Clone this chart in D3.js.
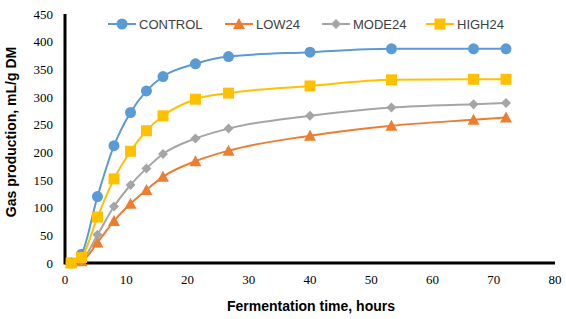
<!DOCTYPE html>
<html><head><meta charset="utf-8">
<script src="https://cdn.jsdelivr.net/npm/d3@7"></script>
<style>body{margin:0;background:#fff}</style>
</head><body>
<svg id="c" width="566" height="319"></svg>
<script>
const hours = [1, 2.7, 5.3, 8, 10.7, 13.3, 16, 21.3, 26.7, 40, 53.3, 66.7, 72];
const control = [0, 16, 120, 212, 272, 311, 337, 360, 373, 381, 387, 387, 387];
const low24 = [0, 3, 37, 76, 107, 132, 156, 184, 203, 230, 248, 259, 263];
const mode24 = [0, 5, 51, 102, 141, 171, 197, 225, 243, 266, 281, 287, 289];
const high24 = [0, 10, 83, 152, 202, 239, 266, 296, 307, 320, 331, 332, 332];
const seriesNames = ["CONTROL", "LOW24", "MODE24", "HIGH24"];
const colors = ["#5B9BD5", "#ED7D31", "#A5A5A5", "#FFC000"];
const markers = ["circle", "triangle", "diamond", "square"];
const xTicks = [0, 10, 20, 30, 40, 50, 60, 70, 80];
const yTicks = [0, 50, 100, 150, 200, 250, 300, 350, 400, 450];

const values = [control, low24, mode24, high24];
const svg = d3.select("#c");
const x = d3.scaleLinear().domain([0, 80]).range([65, 555]);
const y = d3.scaleLinear().domain([0, 450]).range([263, 14]);

// axes
svg.append("line").attr("x1", x(0)).attr("x2", x(80)).attr("y1", y(0)).attr("y2", y(0))
  .attr("stroke", "#000").attr("stroke-width", 3);
svg.append("line").attr("x1", x(0)).attr("x2", x(0)).attr("y1", y(0) + 1.5).attr("y2", y(450))
  .attr("stroke", "#000").attr("stroke-width", 3);

svg.selectAll(".yt").data(yTicks).join("text")
  .attr("x", 53).attr("y", d => y(d) + 4.5).attr("text-anchor", "end")
  .attr("font-family", "Liberation Serif, Times New Roman, serif").attr("font-size", 13)
  .attr("fill", "#000").text(d => d);
svg.selectAll(".xt").data(xTicks).join("text")
  .attr("x", d => x(d)).attr("y", 284).attr("text-anchor", "middle")
  .attr("font-family", "Liberation Serif, Times New Roman, serif").attr("font-size", 13)
  .attr("fill", "#000").text(d => d);

svg.append("text").attr("x", 311).attr("y", 311).attr("text-anchor", "middle")
  .attr("font-family", "Liberation Sans, Arial, sans-serif").attr("font-weight", "bold")
  .attr("font-size", 14).text("Fermentation time, hours");
svg.append("text").attr("transform", "translate(16,132) rotate(-90)").attr("text-anchor", "middle")
  .attr("font-family", "Liberation Sans, Arial, sans-serif").attr("font-weight", "bold")
  .attr("font-size", 14).text("Gas production, mL/g DM");

function marker(g, type, cx, cy, color) {
  if (type === "circle") g.append("circle").attr("cx", cx).attr("cy", cy).attr("r", 5.5).attr("fill", color);
  else if (type === "square") g.append("rect").attr("x", cx - 5.5).attr("y", cy - 5.5).attr("width", 11).attr("height", 11).attr("fill", color);
  else if (type === "triangle") g.append("path").attr("d", `M${cx},${cy - 6}L${cx + 6},${cy + 5}L${cx - 6},${cy + 5}Z`).attr("fill", color);
  else g.append("path").attr("d", `M${cx},${cy - 5}L${cx + 5},${cy}L${cx},${cy + 5}L${cx - 5},${cy}Z`).attr("fill", color);
}

const line = d3.line().x(d => x(d[0])).y(d => y(d[1])).curve(d3.curveMonotoneX);
const order = [0, 1, 2, 3];
order.forEach(i => {
  const pts = hours.map((h, j) => [h, values[i][j]]);
  const g = svg.append("g");
  g.append("path").attr("d", line(pts)).attr("fill", "none").attr("stroke", colors[i]).attr("stroke-width", 2);
  pts.forEach(p => marker(g, markers[i], x(p[0]), y(p[1]), colors[i]));
});

// legend
const legX = [108, 225, 322, 426];
seriesNames.forEach((n, i) => {
  const g = svg.append("g");
  g.append("line").attr("x1", legX[i]).attr("x2", legX[i] + 28).attr("y1", 24).attr("y2", 24)
    .attr("stroke", colors[i]).attr("stroke-width", 2);
  marker(g, markers[i], legX[i] + 14, 24, colors[i]);
  g.append("text").attr("x", legX[i] + 31).attr("y", 29)
    .attr("font-family", "Liberation Sans, Arial, sans-serif").attr("font-size", 13)
    .attr("fill", "#404040").text(n);
});
</script>
</body></html>
